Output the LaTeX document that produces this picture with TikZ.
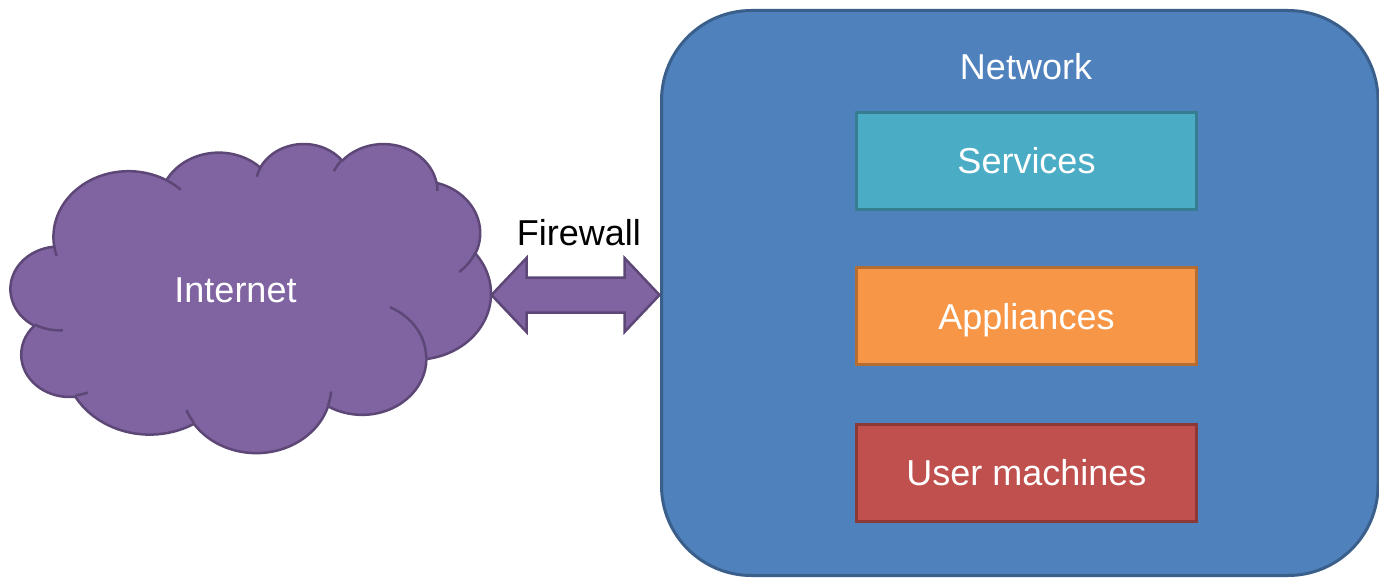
\documentclass[tikz,border=0pt]{standalone}
\usepackage{fontspec}
\setmainfont{Liberation Sans}
\usetikzlibrary{calc}
\definecolor{netfill}{HTML}{4F81BD}
\definecolor{netline}{HTML}{3A5F8B}
\definecolor{svcfill}{HTML}{4BACC6}
\definecolor{svcline}{HTML}{357D91}
\definecolor{appfill}{HTML}{F79646}
\definecolor{appline}{HTML}{B66D31}
\definecolor{usrfill}{HTML}{C0504D}
\definecolor{usrline}{HTML}{8C3836}
\definecolor{cloudfill}{HTML}{8064A2}
\definecolor{cloudline}{HTML}{5C4776}
\newcommand\oa[4]{arc[x radius=#1, y radius=#2, start angle={ootang(#3,#1,#2)}, end angle={ootang(#3+#4,#1,#2)}]}
\begin{document}
\begin{tikzpicture}[x=1pt,y=-1pt,
  declare function={ootang(\t,\a,\b)=\t + mod(atan2(\a*sin(\t),\b*cos(\t)) - (\t) + 540, 360) - 180;},
  lbl/.style={font=\fontsize{36}{43}\selectfont, text=white, inner sep=0pt},
  netbox/.style={draw=netline, fill=netfill, line width=3pt, rounded corners=90pt,
    minimum width=716.5pt, minimum height=565pt, inner sep=0pt},
  innerbox/.style={lbl, line width=3pt, minimum width=340pt, minimum height=97pt,
    text height=26pt, text depth=0pt},
  cloudstyle/.style={fill=cloudfill, draw=cloudline, line width=2.5pt, line join=round},
  fwarrow/.style={fill=cloudfill, draw=cloudline, line width=2.5pt, line join=miter}]
\clip (0,0) rectangle (1379,578);
\fill[white] (0,0) rectangle (1379,578);
% network
\node[netbox] (net) at (1019.75,293) {};
\node[lbl, anchor=base] (netlabel) at (1026,79) {Network};
\node[innerbox, draw=svcline, fill=svcfill] (svc) at (1026.5,160.5) {Services};
\node[innerbox, draw=appline, fill=appfill] (app) at (1026.5,316) {Appliances};
\node[innerbox, draw=usrline, fill=usrfill] (usr) at (1026.5,472.5) {User machines};
% cloud
\begin{scope}[shift={(10.8,143)}, xscale=480/43.2, yscale=309/43.2]
\draw[cloudstyle] (3.900,14.370)
  \oa{6.753}{9.190}{-190.4875}{123.7805}
  \oa{5.333}{7.267}{-144.1024}{89.9452}
  \oa{4.365}{5.945}{-145.8079}{99.7230}
  \oa{4.857}{6.595}{-130.9861}{117.2417}
  \oa{5.333}{7.273}{-78.7089}{109.0269}
  \oa{6.775}{9.220}{-46.2673}{130.2690}
  \oa{5.785}{7.867}{0.6250}{114.0333}
  \oa{6.752}{9.215}{22.4516}{115.1726}
  \oa{7.720}{10.543}{66.2426}{75.7110}
  \oa{4.360}{5.918}{-274.9421}{146.7356}
  \oa{4.345}{5.945}{-246.8285}{152.5189}
  -- cycle;
\draw[draw=cloudline, line width=2.5pt, line cap=butt]
  (4.693,26.177) \oa{4.345}{5.945}{86.7420}{26.4295}
  (6.928,34.899) \oa{4.360}{5.918}{73.6105}{11.4475}
  (16.478,39.090) \oa{6.752}{9.215}{137.6242}{14.0811}
  (28.827,34.751) \oa{6.752}{9.215}{6.4533}{15.9984}
  (34.129,22.954) \oa{5.785}{7.867}{-70.2924}{70.9174}
  (41.798,15.354) \oa{5.333}{7.273}{30.3180}{27.7515}
  (38.324,5.426) \oa{4.857}{6.595}{-13.7443}{14.8589}
  (29.078,3.952) \oa{4.857}{6.595}{-149.1815}{18.1954}
  (22.141,4.720) \oa{4.365}{5.945}{-163.4943}{17.6864}
  (14.000,5.192) \oa{6.753}{9.190}{-66.7070}{12.3194}
  (4.127,15.789) \oa{6.753}{9.190}{157.6544}{11.8582};
\end{scope}
\node[lbl, text height=26pt, text depth=0pt] (inet) at (235.5,289.5) {Internet};
% firewall arrow
\coordinate (fwL) at (491.5,295);
\coordinate (fwR) at (659.5,295);
\draw[fwarrow] (fwL) -- ($(fwL)+(35,-37)$) -- ($(fwL)+(35,-17.5)$)
  -- ($(fwR)+(-35,-17.5)$) -- ($(fwR)+(-35,-37)$) -- (fwR)
  -- ($(fwR)+(-35,37)$) -- ($(fwR)+(-35,17.5)$) -- ($(fwL)+(35,17.5)$)
  -- ($(fwL)+(35,37)$) -- cycle;
\node[font=\fontsize{36}{43}\selectfont, inner sep=0pt, anchor=base] (fwlabel) at (579,245) {Firewall};
\end{tikzpicture}
\end{document}
